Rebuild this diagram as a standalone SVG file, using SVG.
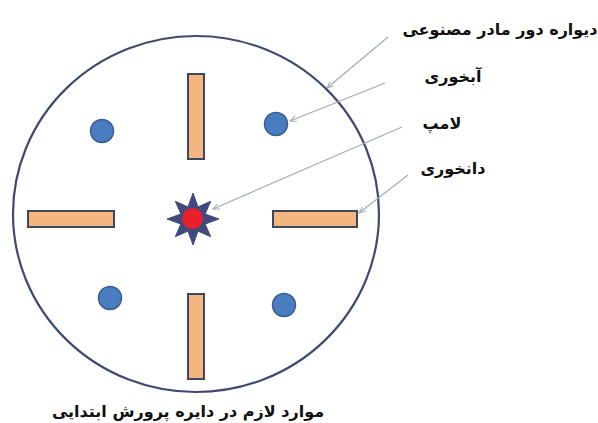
<svg xmlns="http://www.w3.org/2000/svg" width="598" height="423" viewBox="0 0 598 423">
<defs>
<style>
.wall{fill:none;stroke:#3e4b6f;stroke-width:2.2}
.feed{fill:#f4b681;stroke:#3f4660;stroke-width:2}
.water{fill:#4a7cc2;stroke:#3a5d92;stroke-width:1.5}
.conn{fill:none;stroke:#a3aab8;stroke-width:1.2;marker-end:url(#ah)}
.lbl{font-family:"DejaVu Sans",sans-serif;font-weight:bold;font-size:16px;fill:#111;text-anchor:middle}
</style>
<marker id="ah" viewBox="0 0 10 10" refX="9" refY="5" markerWidth="7" markerHeight="7" orient="auto" markerUnits="userSpaceOnUse">
<path d="M0,1 L9,5 L0,9" fill="none" stroke="#a3aab8" stroke-width="1.5"/>
</marker>
</defs>
<rect width="598" height="423" fill="#fff"/>
<g id="wall"><ellipse class="wall" cx="196" cy="214" rx="183" ry="178"/></g>
<g id="feeder-top"><rect class="feed" x="188" y="74" width="16" height="85"/></g>
<g id="feeder-bottom"><rect class="feed" x="188" y="294" width="16" height="85"/></g>
<g id="feeder-left"><rect class="feed" x="28" y="211" width="86" height="16"/></g>
<g id="feeder-right"><rect class="feed" x="273" y="211" width="84" height="16"/></g>
<g id="water-tl"><circle class="water" cx="102" cy="131" r="11.5"/></g>
<g id="water-tr"><circle class="water" cx="276" cy="124" r="11.5"/></g>
<g id="water-bl"><circle class="water" cx="110" cy="298" r="11.5"/></g>
<g id="water-br"><circle class="water" cx="284" cy="305" r="11.5"/></g>
<g id="lamp">
<polygon fill="#414a7c" stroke="#414a7c" stroke-width="1" stroke-linejoin="round" points="193,193 198,206.9 210.7,201.3 205.1,214 219,219 205.1,224 210.7,236.7 198,231.1 193,245 188,231.1 175.3,236.7 180.9,224 167,219 180.9,214 175.3,201.3 188,206.9"/>
<ellipse cx="192.5" cy="218.5" rx="10.5" ry="10.5" fill="#e8202c"/>
</g>
<g id="connectors">
<line class="conn" x1="388" y1="37" x2="327" y2="88"/>
<line class="conn" x1="385" y1="83" x2="290" y2="121"/>
<line class="conn" x1="402" y1="127" x2="213" y2="209"/>
<line class="conn" x1="408" y1="175" x2="359" y2="213"/>
</g>
<g id="labels">
<text class="lbl" x="500" y="35">دیواره دور مادر مصنوعی</text>
<text class="lbl" x="453" y="82">آبخوری</text>
<text class="lbl" x="442" y="129">لامپ</text>
<text class="lbl" x="453" y="174">دانخوری</text>
<text class="lbl" x="188" y="417">موارد لازم در دایره پرورش ابتدایی</text>
</g>
</svg>
